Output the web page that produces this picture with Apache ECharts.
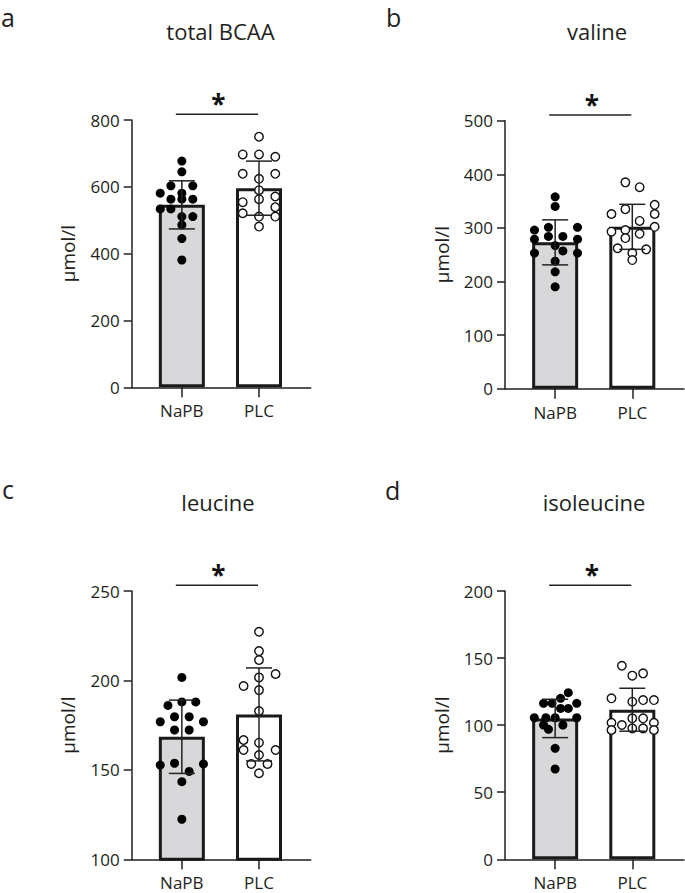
<!DOCTYPE html>
<html><head><meta charset="utf-8">
<script src="https://cdn.jsdelivr.net/npm/echarts@6/dist/echarts.min.js"></script>
<style>html,body{margin:0;padding:0;background:#fff}#c{width:685px;height:893px}</style>
</head><body><div id="c"></div>
<script>
// ---------- data ----------
const categories = ['NaPB', 'PLC'];
const panelLetters = ['a', 'b', 'c', 'd'];
const panelTitles = ['total BCAA', 'valine', 'leucine', 'isoleucine'];
const yAxisName = 'µmol/l';
const yMins = [0, 0, 100, 0];
const yMaxs = [800, 500, 250, 200];
const ySteps = [200, 100, 50, 50];
const sigMarks = ['*', '*', '*', '*'];

// total BCAA (µmol/l)
const bcaaNaPB = [677, 645, 603, 603, 581, 581, 563, 563, 563, 534, 534, 511, 511, 486, 445, 381];
const bcaaPLC  = [750, 697, 697, 690, 639, 639, 624, 590, 563, 571, 554, 539, 521, 511, 511, 481];
const bcaaMean = [546, 596];
const bcaaSD   = [72, 81];
// valine
const valNaPB = [358, 340, 301, 301, 296, 284, 284, 279, 279, 267, 257, 253, 253, 238, 218, 190];
const valPLC  = [385, 376, 343, 335, 326, 326, 313, 302, 296, 293, 289, 281, 262, 260, 253, 240];
const valMean = [273, 302];
const valSD   = [42, 42];
// leucine
const leuNaPB = [201.7, 188, 188, 186, 179.7, 179.7, 176.9, 176.9, 172.3, 172.3, 152.7, 153.7, 149.1, 153.3, 143.4, 122.4];
const leuPLC  = [227.2, 216.4, 211.4, 203.6, 201.7, 196.9, 194.6, 182.9, 166.7, 165.2, 161.1, 161.1, 158.3, 153.3, 153.3, 148.1];
const leuMean = [168.5, 181];
const leuSD   = [20.5, 26];
// isoleucine
const ileNaPB = [124.2, 120, 116.3, 116.3, 116.3, 112.5, 112.5, 105.5, 105.5, 105.5, 105.5, 100.1, 100.1, 96.9, 82.7, 67.3];
const ilePLC  = [144.3, 138.6, 136.9, 120, 117.5, 118.7, 118.7, 105.1, 105.1, 101.8, 101.8, 100.1, 97.6, 97.6, 96.4, 96.4];
const ileMean = [105, 111.5];
const ileSD   = [14.3, 16];

// horizontal scatter of the dots within a category (category units)
const bcaaNaPBJit = [0, 0, -0.142, 0.142, -0.28, 0, -0.142, 0, 0.142, -0.28, -0.142, 0, 0.142, 0, 0, 0];
const bcaaPLCJit  = [0, -0.211, 0, 0.211, -0.211, 0.211, 0, 0, 0, 0.211, -0.211, 0.211, -0.211, 0, 0.211, 0];
const valNaPBJit  = [0, 0, -0.087, 0.29, -0.268, 0.1, -0.087, -0.268, 0.29, 0, 0.1, -0.268, 0.29, 0, 0, 0];
const valPLCJit   = [-0.09, 0.095, 0.29, -0.09, -0.27, 0.29, 0.095, 0.29, -0.09, -0.27, 0.095, -0.09, -0.19, 0.18, 0, 0];
const leuNaPBJit  = [0, 0, 0.18, -0.18, -0.095, 0.095, -0.28, 0.28, -0.095, 0.095, -0.28, -0.095, 0.095, 0.28, 0, 0];
const leuPLCJit   = [0, 0, 0, 0.215, 0, -0.2, 0, 0, -0.2, 0, -0.2, 0.215, 0, -0.1, 0.11, 0];
const ileNaPBJit  = [0.17, 0.07, -0.15, -0.04, 0.28, 0.07, 0.17, -0.27, -0.12, 0, 0.28, -0.15, 0.1, -0.087, 0, 0];
const ilePLCJit   = [-0.135, 0.14, 0, -0.27, 0, 0.14, 0.28, 0, 0.14, -0.27, 0.28, -0.135, 0, 0.14, -0.27, 0.28];

const panelData = [
  {napb: bcaaNaPB, plc: bcaaPLC, jn: bcaaNaPBJit, jp: bcaaPLCJit, mean: bcaaMean, sd: bcaaSD},
  {napb: valNaPB,  plc: valPLC,  jn: valNaPBJit,  jp: valPLCJit,  mean: valMean,  sd: valSD},
  {napb: leuNaPB,  plc: leuPLC,  jn: leuNaPBJit,  jp: leuPLCJit,  mean: leuMean,  sd: leuSD},
  {napb: ileNaPB,  plc: ilePLC,  jn: ileNaPBJit,  jp: ilePLCJit,  mean: ileMean,  sd: ileSD}
];

// ---------- layout & style ----------
const FONT = '"Open Sans", "Noto Sans", sans-serif';
const TXT = '#231f20';
const INK = '#1a1a1a';
const grids = [
  {left: 131.7, top: 120,   width: 179, height: 267.3},
  {left: 505,   top: 120.7, width: 179, height: 268},
  {left: 131.7, top: 591,   width: 179, height: 268.3},
  {left: 505,   top: 591,   width: 179, height: 268.3}
];
const titlePos = [[220.5, 39], [597, 39], [218, 510], [594, 510]];
const letterPos = [[1, 25.5], [386, 25.5], [2, 497], [385, 498]];

const chart = echarts.init(document.getElementById('c'), null, {renderer: 'svg'});

const xAxes = [], yAxes = [], series = [], graphics = [];
grids.forEach((g, i) => {
  xAxes.push({
    gridIndex: i, type: 'value', min: -0.65, max: 1.67,
    axisLine: {show: true, onZero: false, lineStyle: {color: TXT, width: 1.5}},
    axisTick: {show: true, customValues: [0, 1], length: 10, lineStyle: {color: TXT, width: 1.5}},
    axisLabel: {show: true, customValues: [0, 1], formatter: v => categories[Math.round(v)],
      margin: 15, fontSize: 17, color: TXT, fontFamily: FONT},
    splitLine: {show: false}
  });
  yAxes.push({
    gridIndex: i, type: 'value', min: yMins[i], max: yMaxs[i], interval: ySteps[i],
    name: yAxisName, nameLocation: 'middle', nameGap: 54, nameRotate: 90,
    nameTextStyle: {fontSize: 19, color: TXT, fontFamily: FONT},
    axisLine: {show: true, onZero: false, lineStyle: {color: TXT, width: 1.5}},
    axisTick: {show: true, length: 8, lineStyle: {color: TXT, width: 1.5}},
    axisLabel: {margin: 12, fontSize: 17, color: TXT, fontFamily: FONT},
    splitLine: {show: false}
  });
  const d = panelData[i];
  series.push({
    type: 'bar', xAxisIndex: i, yAxisIndex: i, barWidth: 46, z: 1,
    itemStyle: {borderColor: INK, borderWidth: 3},
    data: [
      {value: [0, d.mean[0]], itemStyle: {color: '#d8d8da'}},
      {value: [1, d.mean[1]], itemStyle: {color: '#ffffff'}}
    ]
  });
  series.push({
    type: 'scatter', xAxisIndex: i, yAxisIndex: i, symbol: 'circle', symbolSize: 9, z: 3,
    itemStyle: {color: '#000', opacity: 1},
    data: d.napb.map((v, k) => [0 + d.jn[k], v])
  });
  series.push({
    type: 'scatter', xAxisIndex: i, yAxisIndex: i, symbol: 'circle', symbolSize: 8.5, z: 3,
    itemStyle: {color: '#fff', borderColor: '#111', borderWidth: 1.4, opacity: 1},
    data: d.plc.map((v, k) => [1 + d.jp[k], v])
  });
  series.push({
    type: 'custom', xAxisIndex: i, yAxisIndex: i, z: 5, clip: false,
    data: [[0, d.mean[0], d.sd[0]], [1, d.mean[1], d.sd[1]]],
    renderItem: (params, api) => {
      const x = api.value(0), m = api.value(1), s = api.value(2);
      const t = api.coord([x, m + s]), b = api.coord([x, m - s]);
      const hw = 13;
      const st = {stroke: '#222', lineWidth: 1.5};
      return {type: 'group', children: [
        {type: 'line', shape: {x1: t[0], y1: t[1], x2: b[0], y2: b[1]}, style: st},
        {type: 'line', shape: {x1: t[0] - hw, y1: t[1], x2: t[0] + hw, y2: t[1]}, style: st},
        {type: 'line', shape: {x1: b[0] - hw, y1: b[1], x2: b[0] + hw, y2: b[1]}, style: st}
      ]};
    }
  });
  series.push({
    type: 'custom', xAxisIndex: i, yAxisIndex: i, z: 5, clip: false,
    data: [[0, 1, yMaxs[i]]],
    renderItem: (params, api) => {
      const p0 = api.coord([api.value(0), api.value(2)]);
      const p1 = api.coord([api.value(1), api.value(2)]);
      const y = p0[1] - 5.8;
      return {type: 'group', children: [
        {type: 'line', shape: {x1: p0[0] - 6, y1: y, x2: p1[0] - 1, y2: y}, style: {stroke: '#222', lineWidth: 1.5}},
        {type: 'text', x: (p0[0] + p1[0]) / 2 - 2, y: y - 10,
          style: {text: sigMarks[i], fontSize: 26, fontWeight: 'bold', fontFamily: FONT, fill: '#111',
            align: 'center', verticalAlign: 'middle'}}
      ]};
    }
  });
  graphics.push({type: 'text', x: titlePos[i][0], y: titlePos[i][1] - 0.35 * 22,
    style: {text: panelTitles[i], fontSize: 22, fontFamily: FONT, fill: TXT, align: 'center', verticalAlign: 'middle'}});
  graphics.push({type: 'text', x: letterPos[i][0], y: letterPos[i][1] - 0.33 * 25,
    style: {text: panelLetters[i], fontSize: 25, fontFamily: FONT, fill: TXT, align: 'left', verticalAlign: 'middle'}});
});

chart.setOption({
  animation: false,
  backgroundColor: '#fff',
  textStyle: {fontFamily: FONT},
  grid: grids.map(g => Object.assign({containLabel: false}, g)),
  xAxis: xAxes, yAxis: yAxes, series: series, graphic: graphics
});
</script></body></html>
